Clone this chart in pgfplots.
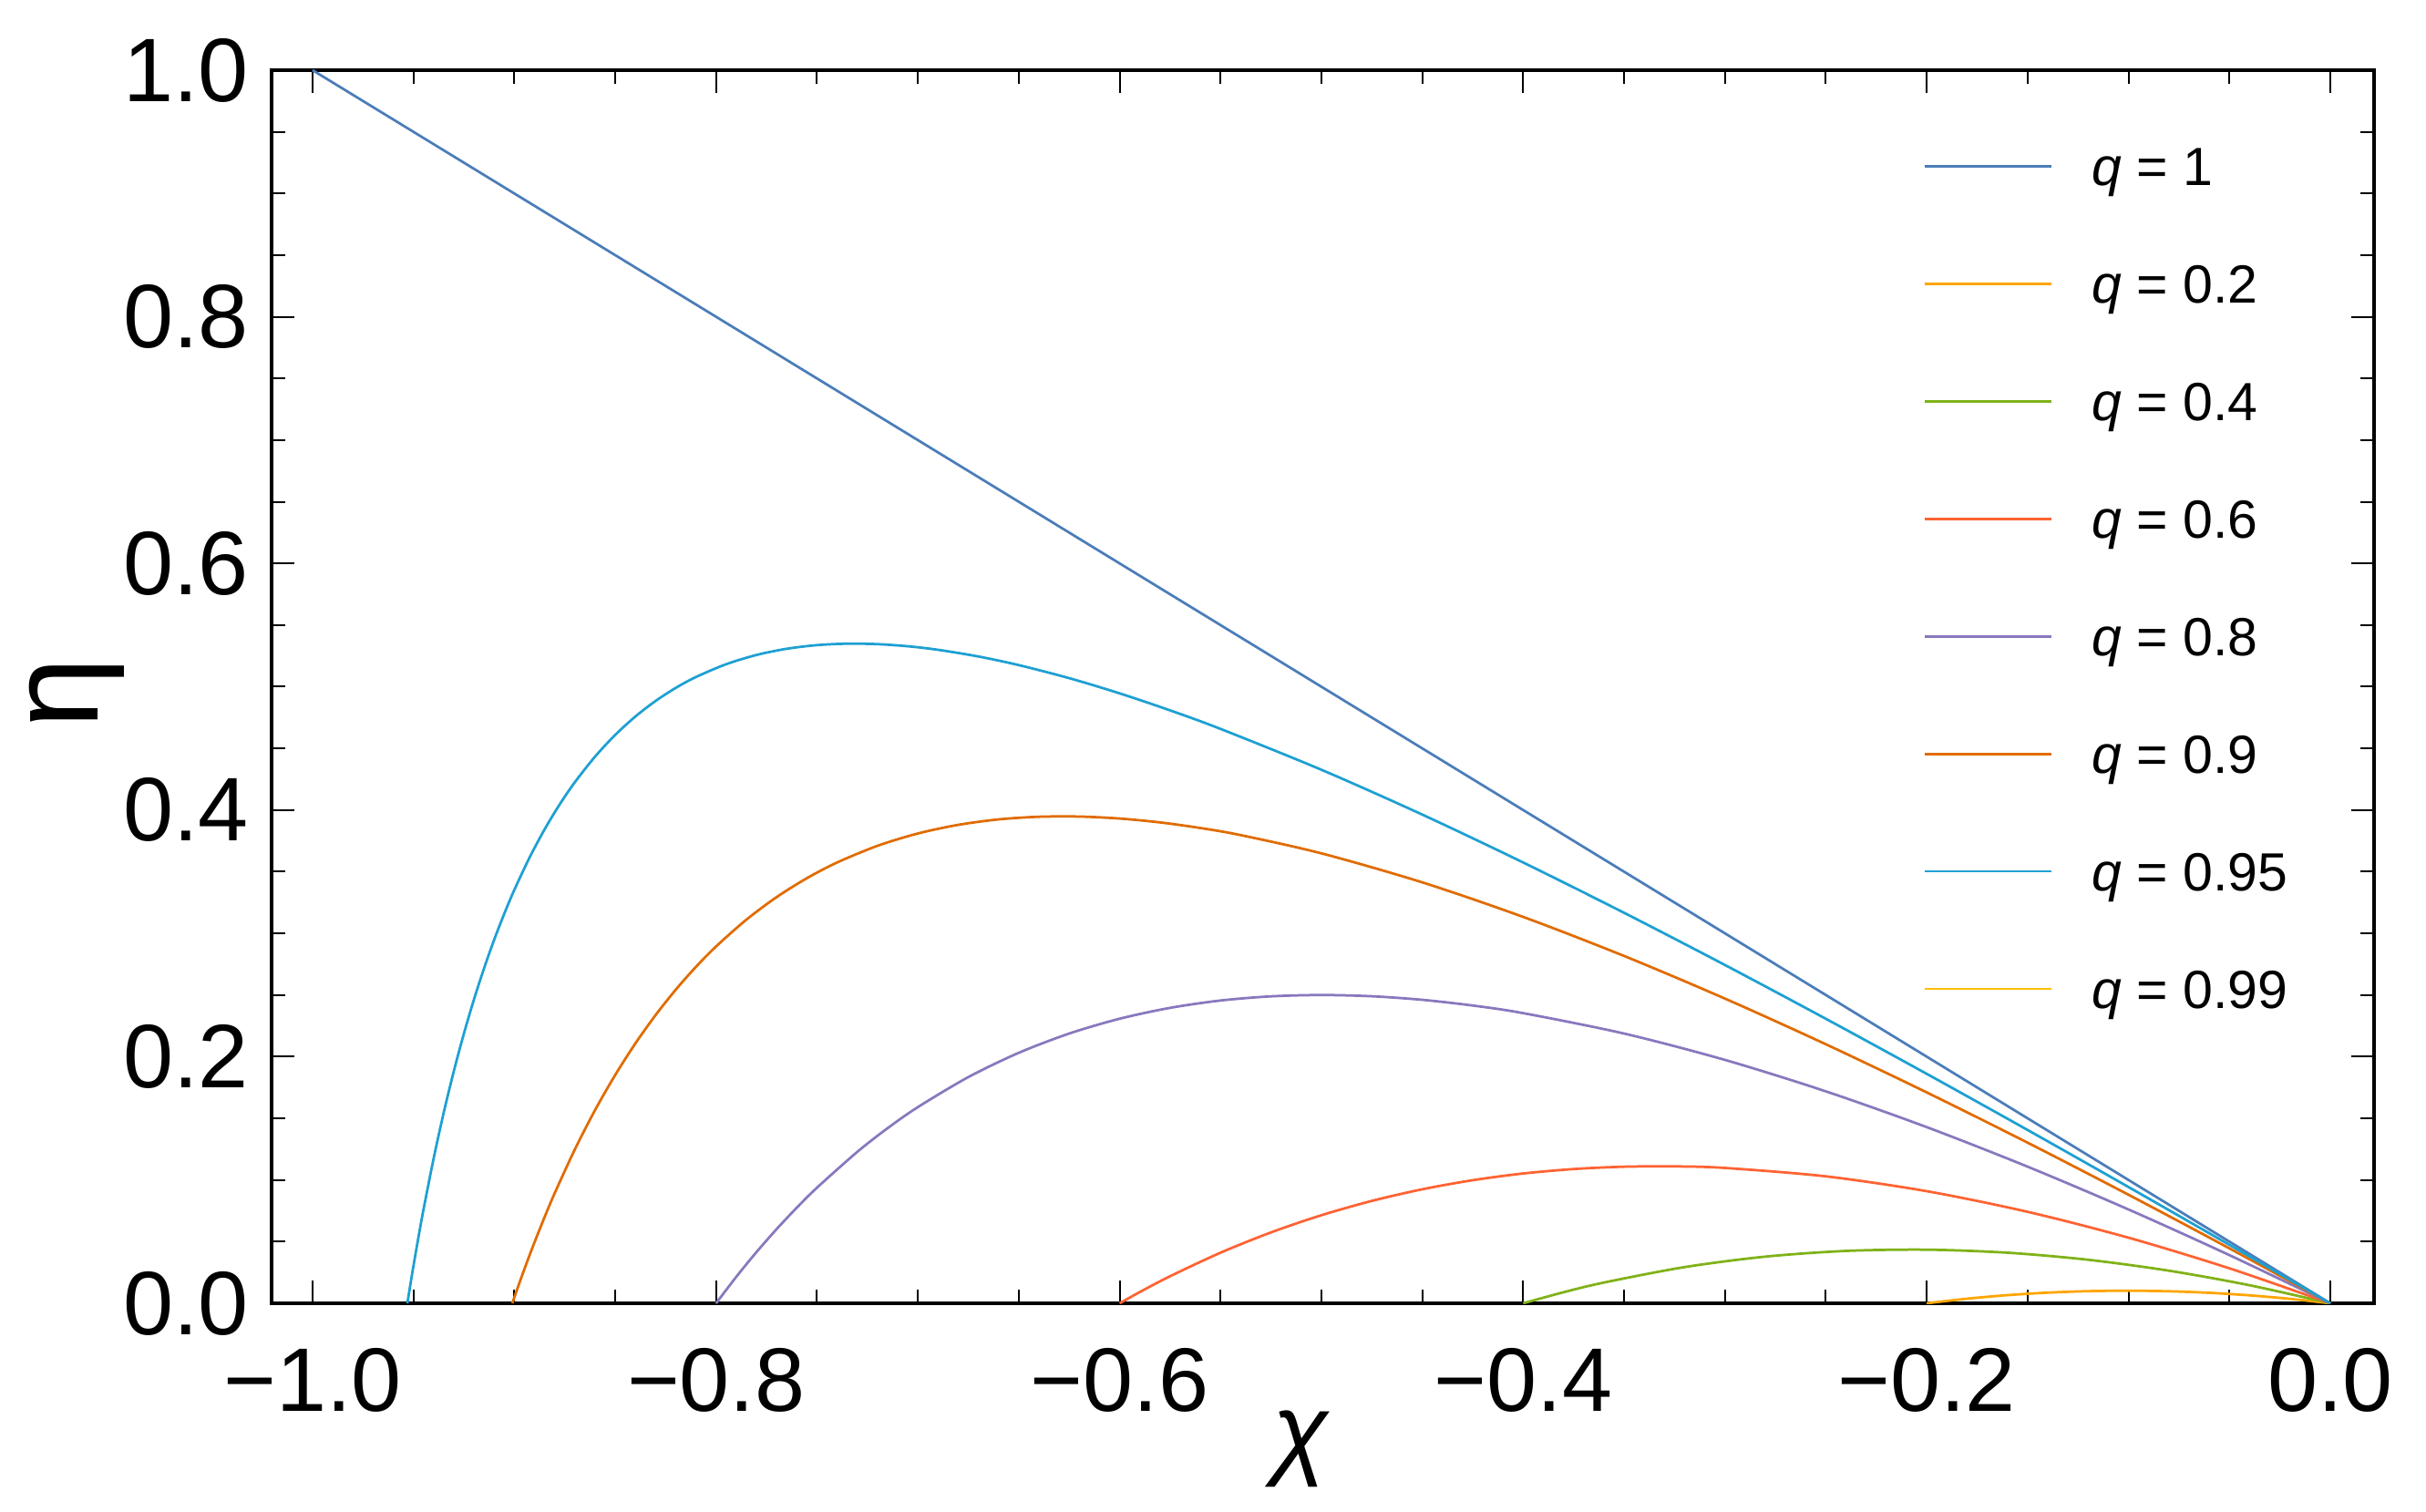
\documentclass[border=0pt]{standalone}
\usepackage{fontspec}
\setmainfont{Liberation Sans}
\usepackage{pgfplots}
\pgfplotsset{compat=1.18}
\definecolor{cA}{RGB}{75,125,185}
\definecolor{cB}{RGB}{255,165,0}
\definecolor{cC}{RGB}{128,178,24}
\definecolor{cD}{RGB}{255,99,51}
\definecolor{cE}{RGB}{137,120,190}
\definecolor{cF}{RGB}{224,108,0}
\definecolor{cG}{RGB}{30,160,210}
\definecolor{cH}{RGB}{255,190,0}
\begin{document}
\begin{tikzpicture}
\begin{axis}[
  scale only axis, width=461.4bp, height=270.6bp,
  xmin=-1.0203, xmax=0.0217, ymin=0, ymax=1,
  axis line style={line width=0.8bp, black},
  tick align=inside, xtick pos=both, ytick pos=both,
  major tick length=5bp, minor tick length=3bp,
  every tick/.style={black, line width=0.4bp},
  minor tick num=3,
  xtick={-1,-0.8,-0.6,-0.4,-0.2,0},
  xticklabels={−1.0,−0.8,−0.6,−0.4,−0.2,0.0},
  ytick={0,0.2,0.4,0.6,0.8,1},
  yticklabels={0.0,0.2,0.4,0.6,0.8,1.0},
  ticklabel style={font=\fontsize{19.8bp}{24bp}\selectfont, inner sep=0pt},
  xticklabel style={yshift=-9.6bp},
  yticklabel style={xshift=-4.8bp},
  xlabel={\itshape χ}, ylabel={η},
  xlabel style={font=\fontsize{22.5bp}{26bp}\selectfont, at={(axis description cs:0.4894,0)}, anchor=base, yshift=-35.6bp, inner sep=0pt},
  ylabel style={font=\fontsize{28bp}{32bp}\selectfont, at={(axis description cs:-0.0928,0.4945)}, anchor=center, inner sep=0pt},
  legend cell align=left,
  legend style={at={(axis cs:-0.2014,0.9375)}, anchor=north west, draw=none, fill=none,
    inner sep=0pt, outer sep=0pt, row sep=17.33bp, column sep=8.5bp,
    font=\fontsize{11.8bp}{14bp}\selectfont,
    nodes={inner sep=0pt, outer sep=0pt, text height=8.45bp, text depth=0bp}},
  legend image code/.code={\draw[#1] (0bp,0bp) -- (27.8bp,0bp);},
  every axis plot/.append style={line width=0.55bp},
]
\addplot[cA] coordinates {(-1,1) (0,0)};
\addlegendentry{{\itshape q} = 1}
\addplot[cB, smooth] coordinates {(-0.2,0) (-0.18,0.003734) (-0.16,0.006612) (-0.14,0.008642) (-0.12,0.009836) (-0.10,0.010204) (-0.08,0.009756) (-0.06,0.008502) (-0.04,0.006452) (-0.02,0.003614) (0,0)};
\addlegendentry{{\itshape q} = 0.2}
\addplot[cC, smooth] coordinates {(-0.4,0) (-0.38,0.008962) (-0.36,0.016822) (-0.32,0.029358) (-0.28,0.037838) (-0.24,0.042478) (-0.20,0.043478) (-0.16,0.041026) (-0.12,0.035294) (-0.08,0.026446) (-0.04,0.014634) (0,0)};
\addlegendentry{{\itshape q} = 0.4}
\addplot[cD, smooth] coordinates {(-0.6,0) (-0.59,0.009133) (-0.575,0.021947) (-0.55,0.041045) (-0.525,0.057482) (-0.50,0.071429) (-0.475,0.083042) (-0.45,0.092466) (-0.425,0.099832) (-0.40,0.105263) (-0.375,0.108871) (-0.35,0.110759) (-0.325,0.111025) (-0.30,0.109756) (-0.25,0.102941) (-0.20,0.090909) (-0.15,0.074176) (-0.10,0.053191) (-0.05,0.028351) (0,0)};
\addlegendentry{{\itshape q} = 0.6}
\addplot[cE, smooth] coordinates {(-0.8,0) (-0.79,0.021467) (-0.78,0.041489) (-0.77,0.060156) (-0.76,0.077551) (-0.75,0.09375) (-0.73,0.122837) (-0.715,0.141998) (-0.70,0.159091) (-0.675,0.183424) (-0.65,0.203125) (-0.625,0.21875) (-0.60,0.230769) (-0.575,0.239583) (-0.55,0.245536) (-0.525,0.248922) (-0.50,0.25) (-0.475,0.248992) (-0.45,0.246094) (-0.425,0.241477) (-0.40,0.235294) (-0.35,0.21875) (-0.30,0.197368) (-0.25,0.171875) (-0.20,0.142857) (-0.15,0.110795) (-0.10,0.076087) (-0.05,0.039063) (0,0)};
\addlegendentry{{\itshape q} = 0.8}
\addplot[cF, smooth] coordinates {(-0.901,0) (-0.8985,0.011794) (-0.895,0.027737) (-0.8925,0.038734) (-0.89,0.049417) (-0.885,0.069886) (-0.88,0.089224) (-0.87,0.124786) (-0.86,0.156614) (-0.85,0.185138) (-0.84,0.210725) (-0.83,0.233692) (-0.82,0.254307) (-0.81,0.272808) (-0.80,0.289398) (-0.785,0.311088) (-0.77,0.329393) (-0.755,0.344743) (-0.74,0.357499) (-0.72,0.370986) (-0.70,0.380991) (-0.68,0.387999) (-0.66,0.392411) (-0.64,0.394558) (-0.62,0.394716) (-0.60,0.393121) (-0.58,0.389971) (-0.56,0.385435) (-0.54,0.379660) (-0.50,0.364877) (-0.45,0.341351) (-0.40,0.313321) (-0.35,0.281677) (-0.30,0.247088) (-0.25,0.210068) (-0.20,0.171017) (-0.15,0.130254) (-0.10,0.088031) (-0.05,0.044557) (0,0)};
\addlegendentry{{\itshape q} = 0.9}
\addplot[cG, smooth] coordinates {(-0.953,0) (-0.9515,0.015310) (-0.95,0.030111) (-0.9475,0.053706) (-0.945,0.076045) (-0.94,0.117297) (-0.935,0.154482) (-0.93,0.188110) (-0.925,0.218611) (-0.92,0.246349) (-0.915,0.271630) (-0.91,0.294720) (-0.905,0.315847) (-0.90,0.335207) (-0.8925,0.361306) (-0.885,0.384301) (-0.8775,0.404606) (-0.87,0.422552) (-0.86,0.443299) (-0.85,0.460911) (-0.84,0.475837) (-0.83,0.488445) (-0.82,0.499039) (-0.81,0.507870) (-0.795,0.518268) (-0.78,0.525754) (-0.765,0.530789) (-0.75,0.533742) (-0.735,0.534911) (-0.72,0.534540) (-0.705,0.532829) (-0.69,0.529948) (-0.67,0.524524) (-0.65,0.517540) (-0.625,0.506955) (-0.60,0.494629) (-0.575,0.480836) (-0.55,0.465798) (-0.50,0.432665) (-0.45,0.396306) (-0.40,0.357466) (-0.35,0.316678) (-0.30,0.274331) (-0.25,0.230719) (-0.20,0.186064) (-0.15,0.140540) (-0.10,0.094286) (-0.05,0.047409) (0,0)};
\addlegendentry{{\itshape q} = 0.95}
\addlegendimage{cH, line width=0.55bp}
\addlegendentry{{\itshape q} = 0.99}
\end{axis}
\pgfresetboundingbox
\useasboundingbox (-59.6bp,-45.8bp) rectangle (472.8bp,286bp);
\end{tikzpicture}
\end{document}
